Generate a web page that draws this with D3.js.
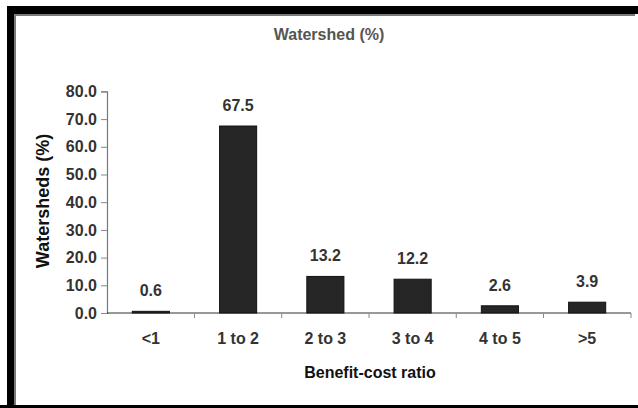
<!DOCTYPE html>
<html>
<head>
<meta charset="utf-8">
<script src="https://cdn.jsdelivr.net/npm/d3@7"></script>
<style>
  html, body { margin: 0; padding: 0; background: #fff; }
  svg { display: block; }
  text { font-family: Arial, "Liberation Sans", sans-serif; }
</style>
</head>
<body>
<script>
// Share of watersheds by benefit-cost ratio class
const categories = ["<1", "1 to 2", "2 to 3", "3 to 4", "4 to 5", ">5"];
const values = [0.6, 67.5, 13.2, 12.2, 2.6, 3.9];
const yTicks = [0, 10, 20, 30, 40, 50, 60, 70, 80];

const W = 638, H = 408;
const svg = d3.select("body").append("svg")
  .attr("width", W).attr("height", H);

svg.append("rect").attr("width", W).attr("height", H).attr("fill", "#fff");

// Frame: heavy black top/left/bottom edges with a thin grey inner shade
svg.append("rect").attr("x", 7).attr("y", 6).attr("width", W - 7).attr("height", 8).attr("fill", "#000");
svg.append("rect").attr("x", 7).attr("y", 6).attr("width", 7).attr("height", H - 6).attr("fill", "#000");
svg.append("rect").attr("x", 0).attr("y", 405).attr("width", W).attr("height", 3).attr("fill", "#000");
svg.append("rect").attr("x", 14).attr("y", 14).attr("width", 621).attr("height", 2).attr("fill", "#7a7a7a");
svg.append("rect").attr("x", 14).attr("y", 14).attr("width", 2).attr("height", 391).attr("fill", "#7a7a7a");

const x0 = 107, x1 = 631, yBase = 313, yTop = 91.4;

const x = d3.scaleBand().domain(categories).range([x0, x1])
  .paddingInner(0.575).paddingOuter(0.29);
const y = d3.scaleLinear().domain([0, 80]).range([yBase, yTop]);

// Title
svg.append("text")
  .attr("x", 329).attr("y", 34)
  .attr("text-anchor", "middle").attr("dominant-baseline", "central")
  .attr("font-size", 16).attr("font-weight", "bold").attr("fill", "#555")
  .text("Watershed (%)");

// Y axis
const yAxis = d3.axisLeft(y).tickValues(yTicks).tickFormat(d3.format(".1f"))
  .tickSize(6).tickPadding(4);
const gy = svg.append("g").attr("transform", `translate(${x0},0)`).call(yAxis);
gy.select(".domain").attr("stroke", "#777").attr("stroke-width", 1.2);
gy.selectAll(".tick line").attr("stroke", "#888");
gy.selectAll(".tick text")
  .attr("font-size", 16).attr("font-weight", "bold").attr("fill", "#333")
  .attr("font-family", "Arial, 'Liberation Sans', sans-serif");

// X axis: ticks sit on the category boundaries
const boundaries = categories.map(c => x(c) - x.step() * x.paddingInner() / 2)
  .concat([x1]).slice(1);
const gx = svg.append("g").attr("transform", `translate(0,${yBase})`);
gx.append("line").attr("x1", x0).attr("x2", x1).attr("stroke", "#333").attr("stroke-width", 1.2);
gx.selectAll("line.tk").data(boundaries).join("line").attr("class", "tk")
  .attr("x1", d => d).attr("x2", d => d).attr("y1", 0).attr("y2", 5)
  .attr("stroke", "#888");
gx.selectAll("text.cat").data(categories).join("text").attr("class", "cat")
  .attr("x", d => x(d) + x.bandwidth() / 2).attr("y", 25)
  .attr("text-anchor", "middle").attr("dominant-baseline", "central")
  .attr("font-size", 16).attr("font-weight", "bold").attr("fill", "#333")
  .text(d => d);

// Bars
const data = categories.map((c, i) => ({ c, v: values[i] }));
svg.append("g").selectAll("rect").data(data).join("rect")
  .attr("x", d => x(d.c)).attr("width", x.bandwidth())
  .attr("y", d => y(d.v)).attr("height", d => yBase - y(d.v))
  .attr("fill", "#262626").attr("stroke", "#111").attr("stroke-width", 1);

// Value labels
svg.append("g").selectAll("text").data(data).join("text")
  .attr("x", d => x(d.c) + x.bandwidth() / 2).attr("y", d => y(d.v) - 15)
  .attr("text-anchor", "middle")
  .attr("font-size", 16).attr("font-weight", "bold").attr("fill", "#333")
  .text(d => d3.format(".1f")(d.v));

// Axis titles
svg.append("text")
  .attr("transform", "translate(43,201) rotate(-90)")
  .attr("text-anchor", "middle").attr("dominant-baseline", "central")
  .attr("font-size", 18).attr("font-weight", "bold").attr("fill", "#111")
  .text("Watersheds (%)");

svg.append("text")
  .attr("x", 370).attr("y", 372)
  .attr("text-anchor", "middle").attr("dominant-baseline", "central")
  .attr("font-size", 16).attr("font-weight", "bold").attr("fill", "#111")
  .text("Benefit-cost ratio");
</script>
</body>
</html>
